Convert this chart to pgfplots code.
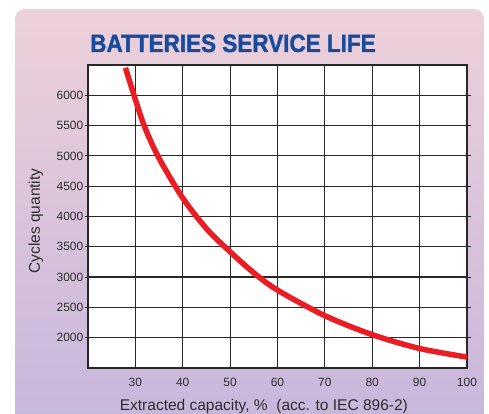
\documentclass[border=0pt]{standalone}
\usepackage{fontspec}
\setmainfont{Liberation Sans}
\newfontfamily\titlefont[BoldFeatures={FakeBold=1.6}]{Liberation Sans}
\usepackage{pgfplots}
\pgfplotsset{compat=1.18}
\definecolor{bgpink}{RGB}{237,209,218}
\definecolor{bgmid}{RGB}{233,205,217}
\definecolor{bglav}{RGB}{198,182,220}
\definecolor{titleblue}{RGB}{24,74,158}
\definecolor{curvered}{RGB}{234,28,36}
\definecolor{gridc}{RGB}{40,40,40}
\definecolor{labc}{RGB}{45,45,45}
\begin{document}
\begin{tikzpicture}
\clip (0,0) rectangle (489pt,414pt);
\fill[white] (0,0) rectangle (489pt,414pt);
\shade[top color=bgpink, middle color=bgmid, bottom color=bglav, rounded corners=10pt]
  (15pt,-20pt) rectangle (484pt,405pt);
\node[anchor=base, inner sep=0pt, text=titleblue, font=\fontsize{25}{28}\titlefont\bfseries]
  at (233pt,362pt) {\scalebox{0.9}[1]{BATTERIES SERVICE LIFE}};
\begin{axis}[
  at={(88pt,46pt)}, anchor=south west,
  scale only axis, width=379pt, height=303pt,
  xmin=20, xmax=100, ymin=1500, ymax=6500,
  xtick={30,40,50,60,70,80,90,100},
  ytick={2000,2500,3000,3500,4000,4500,5000,5500,6000},
  grid=major,
  grid style={line width=1.2pt, gridc},
  axis line style={line width=1.3pt, gridc},
  axis background/.style={fill=white},
  tick align=outside,
  major tick length=3.5pt,
  xtick style={draw=none},
  ytick style={line width=1pt, gridc},
  tick label style={font=\fontsize{12}{14}\selectfont, text=labc},
  yticklabel style={inner sep=1pt},
  xticklabel style={inner sep=0pt, yshift=-6pt},
  /pgf/number format/.cd, set thousands separator={}, assume math mode=true,
  /pgfplots/.cd,
  xlabel={Extracted capacity, \%\ \ (acc. to IEC 896-2)},
  ylabel={Cycles quantity},
  label style={font=\fontsize{15.5}{18}\selectfont, text=labc},
  xlabel style={at={(axis description cs:0.464,0)}, anchor=base, yshift=-42pt, inner sep=0pt},
  ylabel style={at={(axis description cs:-0.1267,0.485)}, anchor=base, inner sep=0pt},
]
\addplot[curvered, line width=5.5pt, smooth] coordinates {
 (27.9,6454) (30,5930) (32,5470) (35,4960) (40,4305) (45,3800)
 (50,3417) (55,3070) (60,2785) (70,2363) (80,2050) (90,1822) (100,1680)
};
\end{axis}
\end{tikzpicture}
\end{document}
